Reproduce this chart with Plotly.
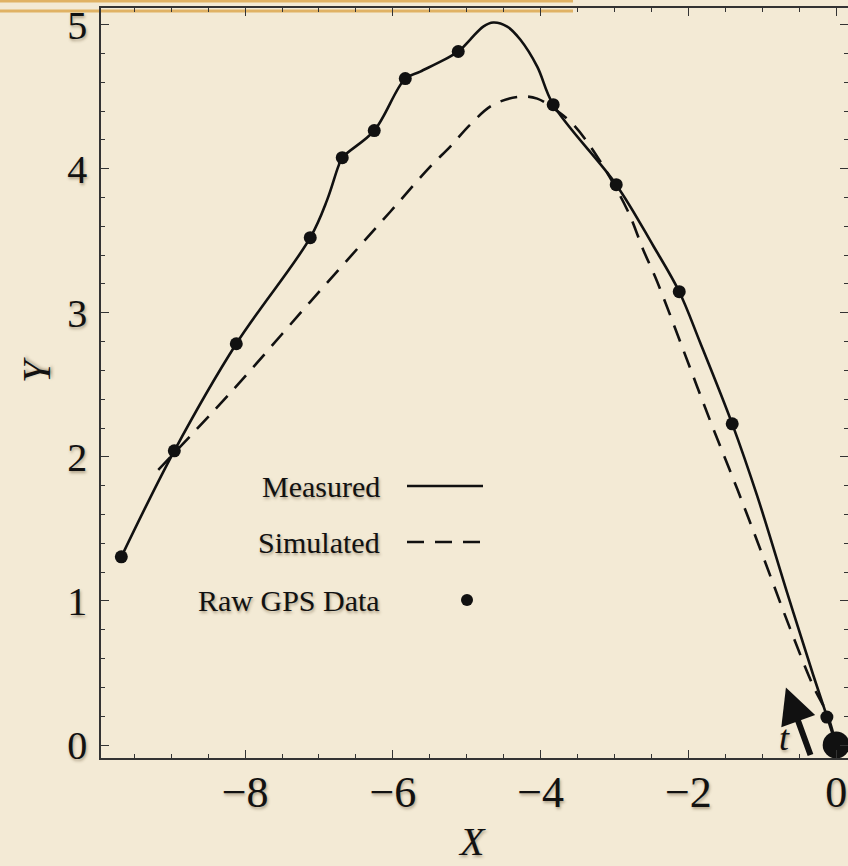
import plotly.graph_objects as go

# ---- data ----
meas_x = [-9.675, -8.958, -8.119, -7.118, -6.888, -6.739, -6.685, -6.252, -5.832, -5.629,
          -5.115, -4.953, -4.777, -4.641, -4.452, -4.276, -4.046, -3.830, -2.977,
          -2.476, -2.124, -1.840, -1.407, -1.069, -0.663, -0.311, -0.122, 0.0]
meas_y = [1.306, 2.042, 2.785, 3.521, 3.785, 4.014, 4.076, 4.264, 4.625, 4.674,
          4.813, 4.896, 4.986, 5.014, 4.986, 4.896, 4.708, 4.444, 3.889,
          3.465, 3.146, 2.792, 2.229, 1.729, 1.056, 0.486, 0.194, 0.0]

sim_x = [-9.175, -8.200, -7.118, -6.035, -5.494, -5.223, -4.953, -4.641, -4.276, -4.046,
         -3.802, -3.559, -3.234, -2.828, -2.612, -2.422, -2.070, -1.705, -1.340, -0.988,
         -0.622, -0.311, -0.122, 0.0]
sim_y = [1.910, 2.444, 3.076, 3.701, 4.014, 4.153, 4.306, 4.444, 4.500, 4.486,
         4.410, 4.306, 4.083, 3.715, 3.438, 3.215, 2.743, 2.250, 1.778, 1.306,
         0.806, 0.410, 0.215, 0.0]

gps_x = [-9.675, -8.958, -8.119, -7.118, -6.685, -6.252, -5.832, -5.115, -3.830, -2.977,
         -2.124, -1.407, -0.126]
gps_y = [1.306, 2.042, 2.785, 3.521, 4.076, 4.264, 4.625, 4.813, 4.444, 3.889,
         3.146, 2.229, 0.194]

start_x = [0.0]
start_y = [0.0]

x_ticks = [-8, -6, -4, -2, 0]
x_ticklabels = ["\u22128", "\u22126", "\u22124", "\u22122", "0"]
y_ticks = [0, 1, 2, 3, 4, 5]

legend_labels = ["Measured", "Simulated", "Raw GPS Data"]

BG = "#F3EAD5"
INK = "#111111"
SERIF = "Liberation Serif, Times New Roman, serif"
SHADOW = "1px 2px 3px rgba(90,70,40,0.45)"

fig = go.Figure()

fig.add_trace(go.Scatter(x=sim_x, y=sim_y, mode="lines", line=dict(color=INK, width=2.6, dash="17px,11px",
                         shape="spline", smoothing=1.0), showlegend=False, hoverinfo="skip"))
fig.add_trace(go.Scatter(x=meas_x, y=meas_y, mode="lines", line=dict(color=INK, width=2.6,
                         shape="spline", smoothing=1.0), showlegend=False, hoverinfo="skip"))
fig.add_trace(go.Scatter(x=gps_x, y=gps_y, mode="markers", marker=dict(color=INK, size=13),
                         showlegend=False, hoverinfo="skip"))
fig.add_trace(go.Scatter(x=start_x, y=start_y, mode="markers", marker=dict(color=INK, size=27),
                         showlegend=False, hoverinfo="skip", cliponaxis=False))

axis_common = dict(showline=True, linecolor="#333333", linewidth=1.5, mirror="ticks",
                   ticks="inside", tickcolor="#333333", tickwidth=1.2, ticklen=8,
                   showgrid=False, zeroline=False, automargin=False)

fig.update_xaxes(range=[-9.95, 0.16], tickvals=x_ticks, ticktext=x_ticklabels,
                 tickfont=dict(family=SERIF, size=44, color=INK, shadow=SHADOW),
                 ticklabelstandoff=-6,
                 minor=dict(dtick=0.5, ticks="inside", ticklen=4.5, tickcolor="#333333", tickwidth=1.2),
                 **axis_common)
fig.update_yaxes(range=[-0.09, 5.115], tickvals=y_ticks,
                 tickfont=dict(family=SERIF, size=40, color=INK, shadow=SHADOW),
                 ticklabelstandoff=4,
                 minor=dict(dtick=0.2, ticks="inside", ticklen=4.5, tickcolor="#333333", tickwidth=1.2),
                 **axis_common)

W_PLOT = 747.0
H_PLOT = 750.0
def px(p):
    return (p - 101) / W_PLOT
def py(p):
    return (758 - p) / H_PLOT

annotations = []
# axis titles
annotations.append(dict(text="Y", x=px(36), y=py(370), xref="paper", yref="paper", showarrow=False,
                        xanchor="center", yanchor="middle", textangle=-90,
                        font=dict(family=SERIF, size=40, color=INK, style="italic", shadow=SHADOW)))
annotations.append(dict(text="X", x=px(472), y=py(841), xref="paper", yref="paper", showarrow=False,
                        xanchor="center", yanchor="middle",
                        font=dict(family=SERIF, size=40, color=INK, style="italic", shadow=SHADOW)))
# legend labels
for lab, yy in zip(legend_labels, [486, 542, 600]):
    annotations.append(dict(text=lab, x=px(382), y=py(yy), xref="paper", yref="paper", showarrow=False,
                            xanchor="right", yanchor="middle",
                            font=dict(family=SERIF, size=30, color=INK, shadow=SHADOW)))
# time arrow and label
annotations.append(dict(x=-0.68, y=0.40, ax=-0.34, ay=-0.08, xref="x", yref="y", axref="x", ayref="y",
                        showarrow=True, arrowhead=2, arrowwidth=6, arrowsize=1.2, arrowcolor=INK, text=""))
annotations.append(dict(text="t", x=-0.70, y=0.05, xref="x", yref="y", showarrow=False,
                        font=dict(family=SERIF, size=36, color=INK, style="italic", shadow=SHADOW)))

shapes = []
# legend samples
shapes.append(dict(type="line", xref="paper", yref="paper", x0=px(407), x1=px(483), y0=py(486), y1=py(486),
                   line=dict(color=INK, width=2.6)))
shapes.append(dict(type="line", xref="paper", yref="paper", x0=px(407), x1=px(483), y0=py(542), y1=py(542),
                   line=dict(color=INK, width=2.6, dash="17px,11px")))
shapes.append(dict(type="circle", xref="paper", yref="paper", x0=px(461), x1=px(473), y0=py(606), y1=py(594),
                   fillcolor=INK, line=dict(color=INK, width=0)))
# decorative page rules at top
shapes.append(dict(type="line", xref="paper", yref="paper", x0=px(0), x1=px(573), y0=py(1), y1=py(1),
                   line=dict(color="#E0B264", width=3), layer="above"))
shapes.append(dict(type="line", xref="paper", yref="paper", x0=px(0), x1=px(573), y0=py(11), y1=py(11),
                   line=dict(color="#E0B264", width=3), layer="below"))

fig.update_layout(width=848, height=866, margin=dict(l=101, r=0, t=8, b=108),
                  paper_bgcolor=BG, plot_bgcolor=BG, showlegend=False,
                  annotations=annotations, shapes=shapes,
                  font=dict(family=SERIF, color=INK))

fig.write_html("out.html", config={"displayModeBar": False},
               post_script="document.body.style.margin='0';document.body.style.overflow='hidden';"
                           "document.body.style.background='" + BG + "';")
